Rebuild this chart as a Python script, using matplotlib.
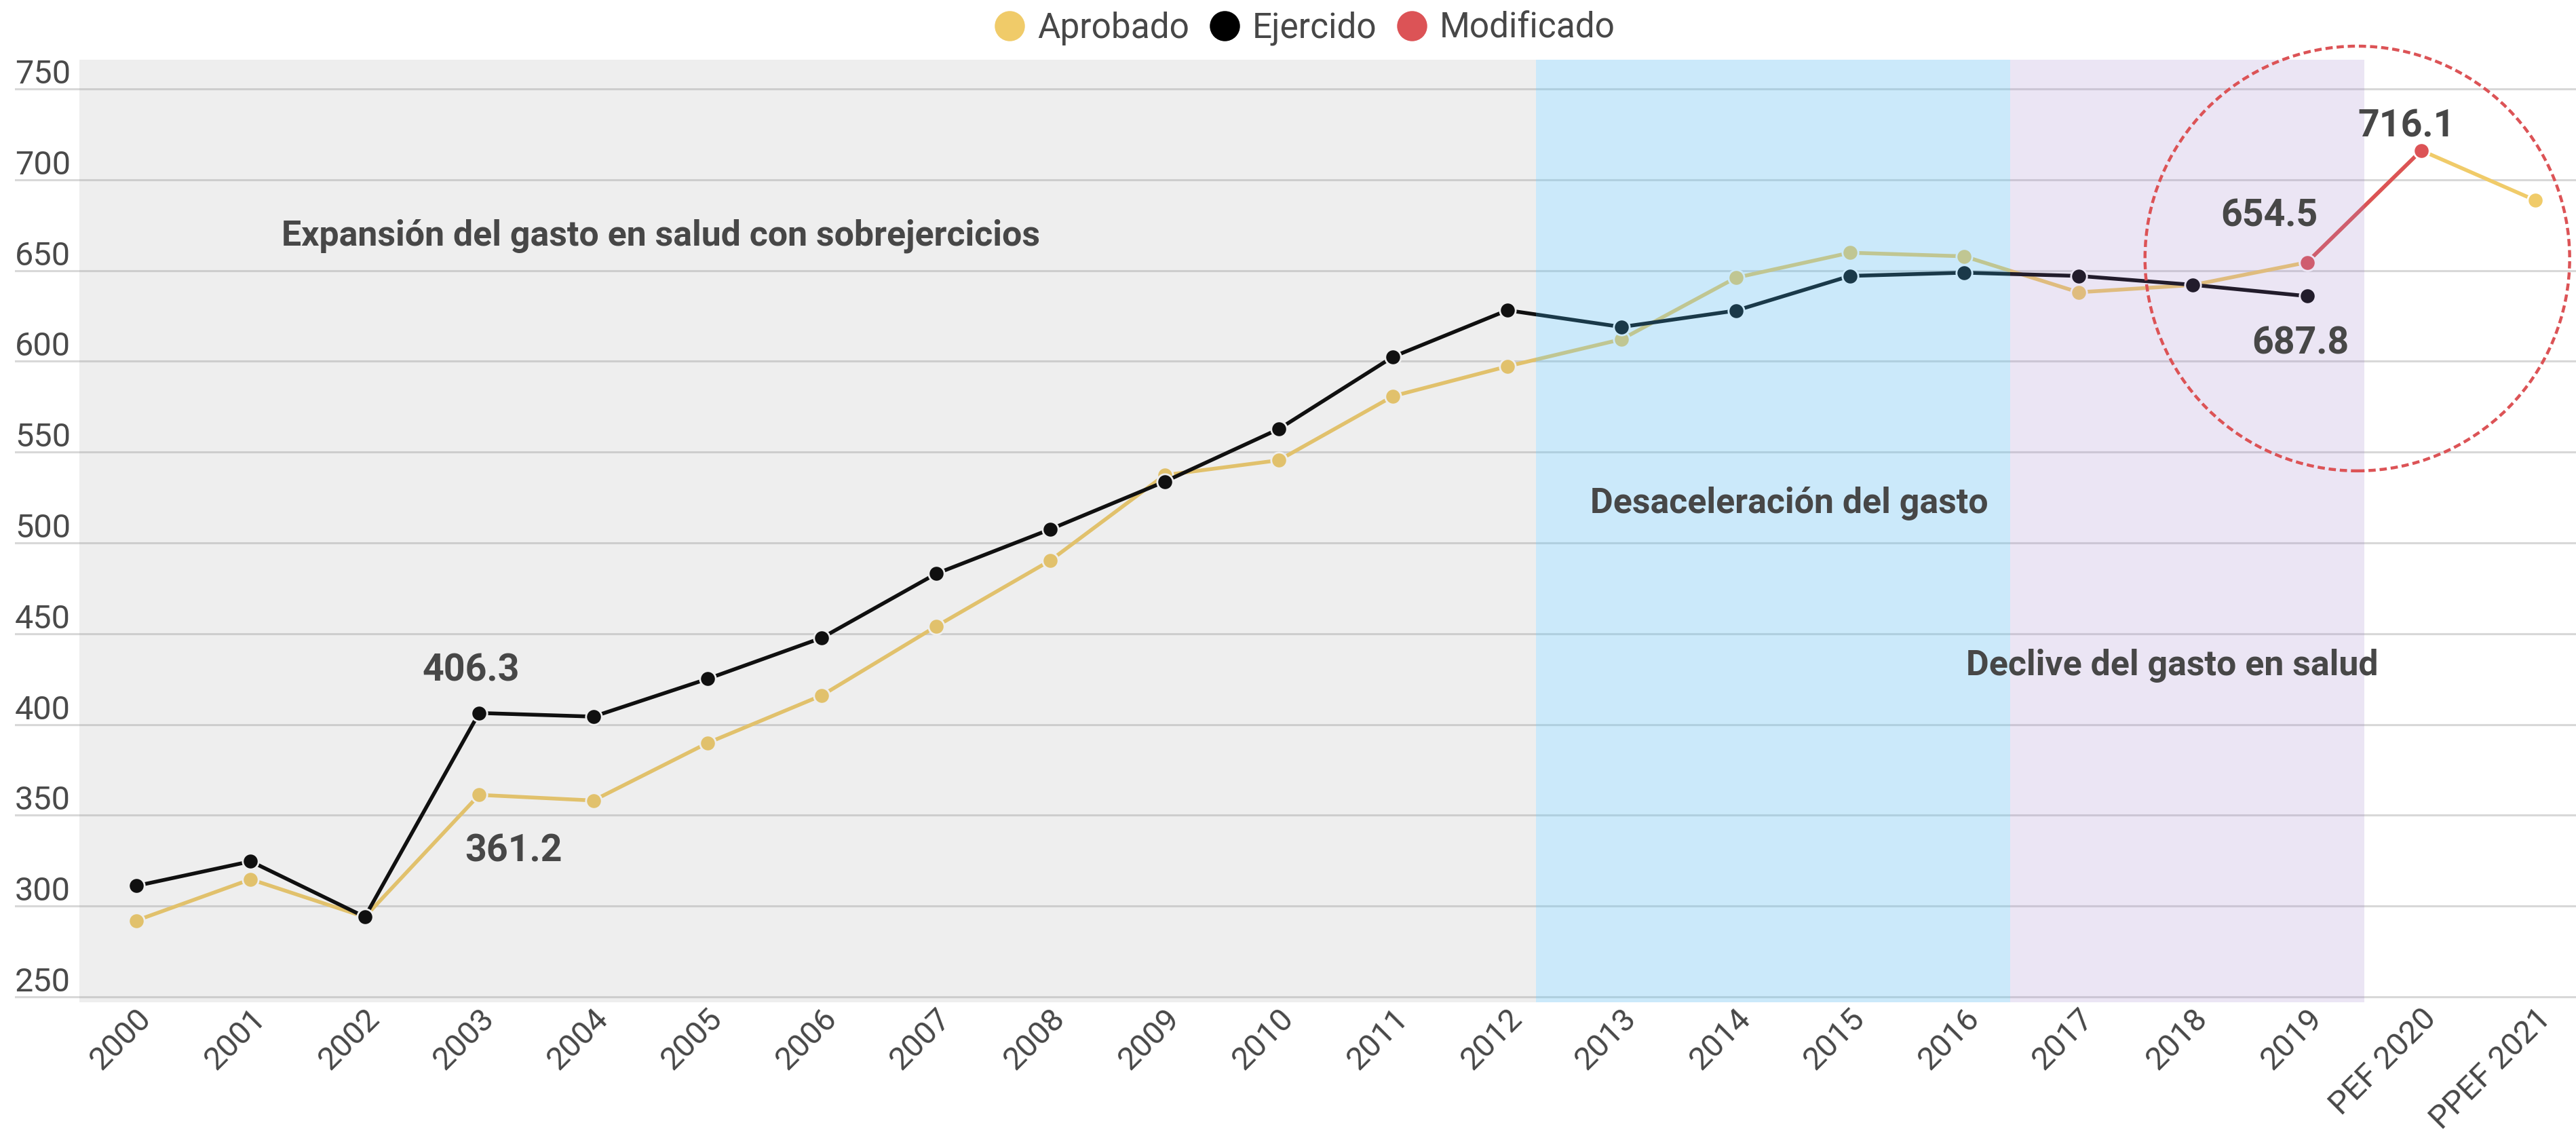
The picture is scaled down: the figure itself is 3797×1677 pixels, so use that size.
import matplotlib
matplotlib.use("Agg")
import matplotlib.pyplot as plt
import matplotlib.transforms as mtrans
from matplotlib.patches import Ellipse
from matplotlib.lines import Line2D
import numpy as np

plt.rcParams["font.family"] = ["Roboto", "DejaVu Sans"]

# ---- data ----
years = ["2000", "2001", "2002", "2003", "2004", "2005", "2006", "2007", "2008", "2009",
         "2010", "2011", "2012", "2013", "2014", "2015", "2016", "2017", "2018", "2019",
         "PEF 2020", "PPEF 2021"]
aprobado = [292.0, 314.7, 294.0, 361.2, 358.1, 389.8, 416.0, 454.0, 490.3, 537.3,
            545.5, 580.8, 597.2, 612.1, 646.0, 659.8, 657.8, 638.0, 642.0, 654.5,
            716.1, 688.6]
ejercido = [311.1, 324.6, 294.0, 406.3, 404.3, 425.1, 447.7, 483.0, 507.5, 533.7,
            562.7, 602.5, 628.1, 618.9, 627.9, 647.0, 648.8, 647.0, 642.1, 635.9]
modificado_x = [19, 20]
modificado = [654.5, 716.1]

y_ticks = [250, 300, 350, 400, 450, 500, 550, 600, 650, 700, 750]

# value labels: (text, x, y)
value_labels = [("406.3", 2.93, 424.1), ("361.2", 3.3, 324.7),
                ("654.5", 18.67, 674.4), ("687.8", 18.94, 603.9),
                ("716.1", 19.87, 723.5)]
# period notes: (text, x, y, ha)
notes = [("Expansión del gasto en salud con sobrejercicios", 1.27, 663.7, "left"),
         ("Desaceleración del gasto", 14.47, 516.6, "center"),
         ("Declive del gasto en salud", 17.82, 427.0, "center")]

YELLOW = "#F0CB69"
BLACK = "#000000"
RED = "#DC5356"
TXT = "#474747"

fig = plt.figure(figsize=(18.99, 8.385), dpi=200)
ax = fig.add_axes([0.0058, 0.1193, 0.9942, 0.8281])
ax.set_xlim(-1.063, 21.36)
ax.set_ylim(247, 766)

for s in ax.spines.values():
    s.set_visible(False)

# grid + y labels sitting on the lines
for v in y_ticks:
    ax.axhline(v, color="#d8d8d8", lw=1.1, zorder=0.5)
    ax.text(0, v + 3, str(v), transform=ax.get_yaxis_transform(), ha="left", va="baseline",
            fontsize=17.5, color="#4a4a4a")
ax.set_yticks([])

x = np.arange(len(years))
mk = dict(marker="o", markersize=8.4, markeredgecolor="white", markeredgewidth=1.0)
ax.plot(x, aprobado, color=YELLOW, lw=2.0, markerfacecolor=YELLOW, zorder=2, **mk)
ax.plot(x[:len(ejercido)], ejercido, color=BLACK, lw=2.0, markerfacecolor=BLACK, zorder=2.2, **mk)
ax.plot(modificado_x, modificado, color=RED, lw=2.0, markerfacecolor=RED, zorder=2.4, **mk)

# period shading (overlay on top of the lines)
ax.axvspan(-0.5, 12.25, color="#838383", alpha=0.13, lw=0, zorder=3)
ax.axvspan(12.25, 16.4, color="#57bbef", alpha=0.31, lw=0, zorder=3)
ax.axvspan(16.4, 19.5, color="#a285cd", alpha=0.21, lw=0, zorder=3)

# dashed highlight circle
circ = Ellipse((19.44, 656.6), 3.717, 233.9, fill=False, ec=RED, lw=1.6,
               ls=(0, (2.4, 1.3)), clip_on=False, zorder=4)
ax.add_patch(circ)

for t, xx, yy in value_labels:
    ax.text(xx, yy, t, ha="center", va="baseline", fontsize=20, fontweight="bold",
            color=TXT, zorder=5)
for t, xx, yy, ha in notes:
    ax.text(xx, yy, t, ha=ha, va="baseline", fontsize=18.7, fontweight="bold",
            color=TXT, zorder=5)

# x ticks
ax.set_xticks(x)
ax.set_xticklabels(years, rotation=45, ha="right", va="center", rotation_mode="anchor",
                   fontsize=17, color=TXT)
ax.tick_params(axis="x", length=0, pad=6)
off = mtrans.ScaledTranslation(15 / 200, 0, fig.dpi_scale_trans)
for lab in ax.get_xticklabels():
    lab.set_transform(lab.get_transform() + off)

# legend
handles = [Line2D([], [], ls="none", marker="o", markersize=15, markerfacecolor=c,
                  markeredgecolor=c) for c in (YELLOW, BLACK, RED)]
fig.legend(handles, ["Aprobado", "Ejercido", "Modificado"], loc="center",
           bbox_to_anchor=(0.506, 0.975), ncol=3, frameon=False, fontsize=18.5,
           labelcolor=TXT, handletextpad=0.3, columnspacing=0.5, handlelength=1.0)

plt.savefig("out.png", dpi=200)
